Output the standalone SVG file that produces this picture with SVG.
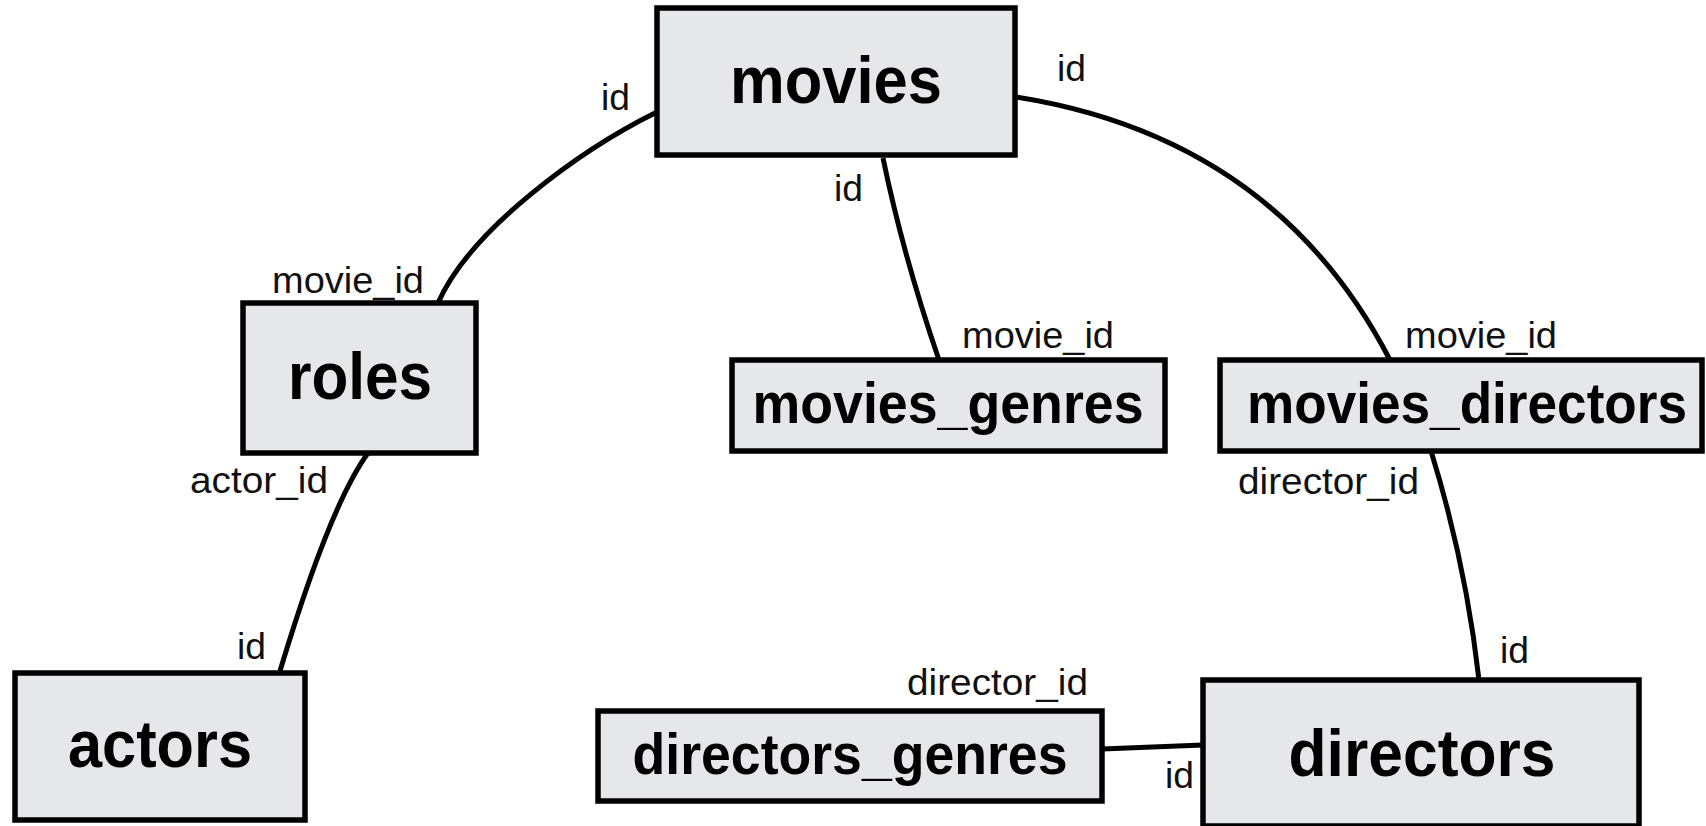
<svg xmlns="http://www.w3.org/2000/svg" width="1706" height="826" viewBox="0 0 1706 826">
<style>
.box{fill:#e6e7e8;stroke:#000;stroke-width:5.5}
.big{font-family:"Liberation Sans",Arial,sans-serif;font-weight:bold;font-size:66px;text-anchor:middle;fill:#000}
.mid{font-family:"Liberation Sans",Arial,sans-serif;font-weight:bold;font-size:58px;text-anchor:middle;fill:#000}
.lbl{font-family:"Liberation Sans",Arial,sans-serif;font-size:36px;fill:#111}
.edge{fill:none;stroke:#000;stroke-width:5}
</style>
<rect width="1706" height="826" fill="#fff"/>
<g id="connectors">
<path class="edge" d="M657,112 C580,150 470,230 438,303"/>
<path class="edge" d="M883,158 Q903,255 939,360"/>
<path class="edge" d="M1016,97 Q1275,138 1390,360"/>
<path class="edge" d="M368,453 Q330,505 280,671"/>
<path class="edge" d="M1431,451 Q1466,564 1479,680"/>
<path class="edge" d="M1102,749 L1203,745"/>
<text class="lbl" x="601" y="110" textLength="29" lengthAdjust="spacingAndGlyphs">id</text>
<text class="lbl" x="834" y="201" textLength="29" lengthAdjust="spacingAndGlyphs">id</text>
<text class="lbl" x="1057" y="81" textLength="29" lengthAdjust="spacingAndGlyphs">id</text>
<text class="lbl" x="272" y="293" textLength="152" lengthAdjust="spacingAndGlyphs">movie_id</text>
<text class="lbl" x="962" y="348" textLength="152" lengthAdjust="spacingAndGlyphs">movie_id</text>
<text class="lbl" x="1405" y="348" textLength="152" lengthAdjust="spacingAndGlyphs">movie_id</text>
<text class="lbl" x="190" y="493" textLength="138" lengthAdjust="spacingAndGlyphs">actor_id</text>
<text class="lbl" x="237" y="659" textLength="29" lengthAdjust="spacingAndGlyphs">id</text>
<text class="lbl" x="1238" y="494" textLength="181" lengthAdjust="spacingAndGlyphs">director_id</text>
<text class="lbl" x="1500" y="663" textLength="29" lengthAdjust="spacingAndGlyphs">id</text>
<text class="lbl" x="907" y="695" textLength="181" lengthAdjust="spacingAndGlyphs">director_id</text>
<text class="lbl" x="1165" y="788" textLength="29" lengthAdjust="spacingAndGlyphs">id</text>
</g>
<g id="movies">
<rect class="box" x="657" y="8" width="358" height="147"/>
<text class="big" x="836" y="103" textLength="212" lengthAdjust="spacingAndGlyphs">movies</text>
</g>
<g id="roles">
<rect class="box" x="243" y="303" width="233" height="150"/>
<text class="big" x="360" y="399" textLength="144" lengthAdjust="spacingAndGlyphs">roles</text>
</g>
<g id="actors">
<rect class="box" x="15" y="673" width="290" height="147"/>
<text class="big" x="160" y="767" textLength="184" lengthAdjust="spacingAndGlyphs">actors</text>
</g>
<g id="movies_genres">
<rect class="box" x="732" y="360" width="433" height="91"/>
<text class="mid" x="948" y="423" textLength="391" lengthAdjust="spacingAndGlyphs">movies_genres</text>
</g>
<g id="movies_directors">
<rect class="box" x="1220" y="360" width="482" height="91"/>
<text class="mid" x="1467" y="423" textLength="440" lengthAdjust="spacingAndGlyphs">movies_directors</text>
</g>
<g id="directors_genres">
<rect class="box" x="598" y="711" width="504" height="90"/>
<text class="mid" x="850" y="774" textLength="435" lengthAdjust="spacingAndGlyphs">directors_genres</text>
</g>
<g id="directors">
<rect class="box" x="1203" y="680" width="436" height="146"/>
<text class="big" x="1422" y="776" textLength="267" lengthAdjust="spacingAndGlyphs">directors</text>
</g>
</svg>
